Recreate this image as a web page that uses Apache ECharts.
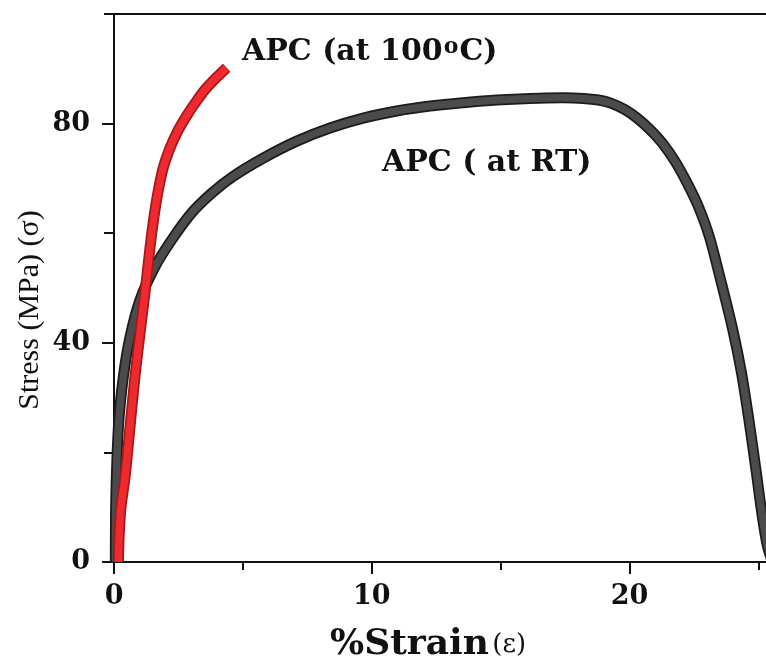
<!DOCTYPE html>
<html>
<head>
<meta charset="utf-8">
<script src="https://cdn.jsdelivr.net/npm/echarts@6/dist/echarts.min.js"></script>
<style>
  html, body { margin: 0; padding: 0; background: #fff; }
  #chart { width: 766px; height: 664px; }
</style>
</head>
<body>
<div id="chart"></div>
<script>
// Tensile stress-strain curves of APC, room temperature vs 100 °C
const strainRT = [0.05, 0.07, 0.17, 0.36, 0.62, 1.01, 1.59, 2.24, 3.01, 3.79, 4.6, 5.79, 7.09, 8.38, 9.67, 10.97, 12.26, 13.55, 14.85, 16.14, 17.43, 18.2, 18.8, 19.3, 19.8, 20.3, 20.8, 21.3, 21.8, 22.3, 22.7, 23.1, 23.5, 24.0, 24.35, 24.65, 24.92, 25.15, 25.35, 25.55];
const stressRT = [0, 12, 24.7, 33.8, 41.1, 47.9, 53.9, 58.8, 63.7, 67.3, 70.3, 73.7, 76.8, 79.2, 81.0, 82.3, 83.2, 83.8, 84.3, 84.6, 84.7, 84.6, 84.3, 83.7, 82.6, 81.0, 78.9, 76.3, 72.9, 68.6, 64.6, 59.4, 52.2, 42.6, 34.5, 25.5, 16.5, 8.5, 3.0, 0];

const strainHot = [0.17, 0.2, 0.27, 0.43, 0.62, 0.81, 1.01, 1.2, 1.4, 1.55, 1.7, 1.9, 2.15, 2.5, 2.88, 3.2, 3.53, 3.95, 4.37];
const stressHot = [0, 5, 10, 15.6, 24.7, 33.8, 41.8, 49.1, 57.6, 63.0, 67.4, 71.8, 75.3, 78.9, 81.9, 84.1, 86.2, 88.3, 90.2];

const xMajorTicks = [0, 10, 20];
const xMinorTicks = [5, 15, 25];
const yLabelTicks = [0, 40, 80];

const labelRT = 'APC ( at RT)';
const labelHot = ['APC (at 100', 'o', 'C)'];
const xTitle = ['%Strain', '(ε)'];
const yTitle = 'Stress (MPa) (σ)';

const WIDE_SERIF = '"DejaVu Serif", "Liberation Serif", serif';
const TIMES = '"Liberation Serif", "DejaVu Serif", serif';
const INK = '#111';

function pairs(xs, ys) { return xs.map((x, i) => [x, ys[i]]); }

const chart = echarts.init(document.getElementById('chart'));

const xBase = { type: 'value', min: -0.08, max: 25.3, splitLine: { show: false } };

const tickLabelStyle = { color: INK, fontFamily: WIDE_SERIF, fontSize: 27, fontWeight: 'bold' };

function curve(name, data, color, width, z) {
  return {
    name: name, type: 'line', data: data, smooth: 0.3, symbol: 'none', z: z,
    lineStyle: { color: color, width: width, cap: 'butt', join: 'round' },
    emphasis: { disabled: true }, silent: true
  };
}

chart.setOption({
  animation: false,
  backgroundColor: '#fff',
  grid: { left: 112, top: 14, right: 0, bottom: 102 },
  xAxis: [
    Object.assign({}, xBase, {
      position: 'bottom',
      axisLine: { show: true, lineStyle: { color: INK, width: 2 } },
      axisTick: { show: true, customValues: xMajorTicks, length: 12, lineStyle: { color: INK, width: 2 } },
      axisLabel: Object.assign({ customValues: xMajorTicks, margin: 21 }, tickLabelStyle)
    }),
    Object.assign({}, xBase, {
      position: 'bottom',
      axisLine: { show: false },
      axisTick: { show: true, customValues: xMinorTicks, length: 8, lineStyle: { color: INK, width: 2 } },
      axisLabel: { show: false }
    }),
    Object.assign({}, xBase, {
      position: 'top',
      axisLine: { show: true, lineStyle: { color: INK, width: 2 } },
      axisTick: { show: false },
      axisLabel: { show: false }
    })
  ],
  yAxis: [
    {
      type: 'value', min: 0, max: 100, interval: 20,
      splitLine: { show: false },
      axisLine: { show: true, lineStyle: { color: INK, width: 2 } },
      axisTick: { show: true, length: 10, lineStyle: { color: INK, width: 2 } },
      axisLabel: Object.assign({
        margin: 22,
        formatter: v => (yLabelTicks.indexOf(v) >= 0 ? String(v) : '')
      }, tickLabelStyle)
    },
    {
      type: 'value', min: 0, max: 100, position: 'left',
      splitLine: { show: false },
      axisLine: { show: false },
      axisTick: { show: true, customValues: yLabelTicks, length: 12, lineStyle: { color: INK, width: 2 } },
      axisLabel: { show: false }
    }
  ],
  series: [
    curve('APC (at RT) edge', pairs(strainRT, stressRT), '#1c1c1c', 11, 2),
    curve('APC (at RT)', pairs(strainRT, stressRT), '#4b4b4b', 7.5, 3),
    curve('APC (at 100°C) edge', pairs(strainHot, stressHot), '#a8171a', 11, 4),
    curve('APC (at 100°C)', pairs(strainHot, stressHot), '#ee2a2e', 7.5, 5)
  ],
  graphic: [
    {
      type: 'text', left: 242, top: 36, z: 10,
      style: {
        text: '{a|' + labelHot[0] + '}{s|' + labelHot[1] + '}{a|' + labelHot[2] + '}',
        rich: {
          a: { fontFamily: WIDE_SERIF, fontSize: 30, fontWeight: 'bold', fill: INK },
          s: { fontFamily: WIDE_SERIF, fontSize: 22, fontWeight: 'bold', fill: INK, padding: [0, 1, 11, 1] }
        }
      }
    },
    {
      type: 'text', left: 382, top: 148, z: 10,
      style: { text: labelRT, fontFamily: WIDE_SERIF, fontSize: 30, fontWeight: 'bold', fill: INK }
    },
    {
      type: 'text', x: 428, y: 663, z: 10,
      style: {
        text: '{a|' + xTitle[0] + '} {b|' + xTitle[1] + '}',
        align: 'center', verticalAlign: 'bottom',
        rich: {
          a: { fontFamily: WIDE_SERIF, fontSize: 36, fontWeight: 'bold', fill: INK },
          b: { fontFamily: WIDE_SERIF, fontSize: 26, fill: INK }
        }
      }
    },
    {
      type: 'text', x: 30, y: 310, rotation: Math.PI / 2, z: 10,
      style: {
        text: yTitle, align: 'center', verticalAlign: 'middle',
        fontFamily: TIMES, fontSize: 30, fill: INK
      }
    }
  ]
});
</script>
</body>
</html>
